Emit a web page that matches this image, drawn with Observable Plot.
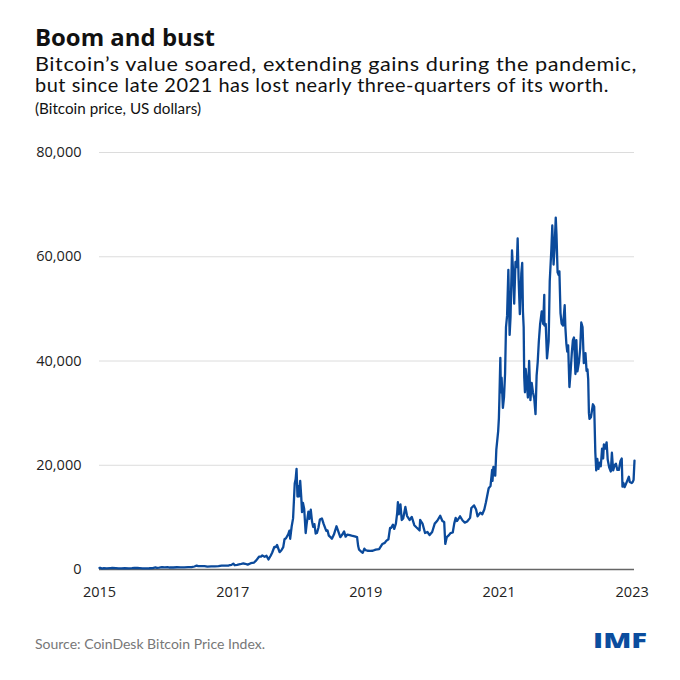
<!DOCTYPE html>
<html>
<head>
<meta charset="utf-8">
<script src="https://cdn.jsdelivr.net/npm/d3@7"></script>
<script src="https://cdn.jsdelivr.net/npm/@observablehq/plot@0.6"></script>
<style>
  html, body { margin: 0; padding: 0; background: #fff; }
  #wrap { position: relative; width: 680px; height: 680px; font-family: Lato, "Open Sans", sans-serif; overflow: hidden; }
  .t { position: absolute; left: 35px; white-space: nowrap; display: inline-block; transform-origin: 0 50%; line-height: 1.2; }
  #title { top: 21.4px; font-family: "Open Sans", Lato, sans-serif; font-size: 23px; font-weight: 700; color: #111; line-height: normal; }
  .sub { font-size: 19px; color: #111; letter-spacing: 0.5px; }
  #sub1 { top: 52.7px; }
  #sub2 { top: 73.8px; }
  #unit { top: 99.7px; font-size: 14.5px; color: #111; }
  #source { top: 635.7px; font-size: 13.5px; color: #777; }
  #logo { left: 593px; top: 625.6px; font-family: "Open Sans", Lato, sans-serif; font-size: 21px; font-weight: 800; color: #0b4d9e; line-height: normal; }
  #chart { position: absolute; left: 0; top: 130px; }
</style>
</head>
<body>
<div id="wrap">
  <div class="t" id="title" data-w="180">Boom and bust</div>
  <div class="t sub" id="sub1" data-w="602">Bitcoin’s value soared, extending gains during the pandemic,</div>
  <div class="t sub" id="sub2" data-w="574">but since late 2021 has lost nearly three-quarters of its worth.</div>
  <div class="t" id="unit" data-w="166">(Bitcoin price, US dollars)</div>
  <div id="chart"></div>
  <div class="t" id="source" data-w="230">Source: CoinDesk Bitcoin Price Index.</div>
  <div class="t" id="logo" data-w="54">IMF</div>
</div>
<script>
const dates = [
  "2015-01-01","2015-01-08","2015-01-14","2015-01-25","2015-02-10","2015-03-01","2015-03-12","2015-04-01","2015-04-15","2015-05-01","2015-05-20","2015-06-10","2015-06-28","2015-07-12","2015-07-28","2015-08-10","2015-08-25","2015-09-15","2015-10-01","2015-10-20","2015-11-04","2015-11-12","2015-11-25","2015-12-10","2015-12-25",
  "2016-01-10","2016-01-20","2016-02-10","2016-03-01","2016-03-20","2016-04-10","2016-05-01","2016-05-20","2016-06-05","2016-06-17","2016-06-25","2016-07-10","2016-07-30","2016-08-15","2016-09-05","2016-09-25","2016-10-15","2016-11-01","2016-11-20","2016-12-10","2016-12-25",
  "2017-01-04","2017-01-12","2017-01-25","2017-02-10","2017-02-28","2017-03-10","2017-03-24","2017-04-10","2017-04-28","2017-05-10","2017-05-25","2017-06-05","2017-06-12","2017-06-25","2017-07-05","2017-07-16","2017-07-28","2017-08-05","2017-08-17","2017-08-25","2017-09-01","2017-09-15","2017-09-25","2017-10-05","2017-10-12","2017-10-20","2017-11-01","2017-11-08","2017-11-12","2017-11-20","2017-11-28","2017-12-07","2017-12-12","2017-12-17","2017-12-22","2017-12-26","2017-12-30",
  "2018-01-06","2018-01-12","2018-01-16","2018-01-21","2018-01-28","2018-02-05","2018-02-10","2018-02-20","2018-02-25","2018-03-05","2018-03-12","2018-03-18","2018-03-25","2018-04-01","2018-04-08","2018-04-16","2018-04-24","2018-05-05","2018-05-15","2018-05-29","2018-06-05","2018-06-12","2018-06-24","2018-06-29","2018-07-10","2018-07-24","2018-08-01","2018-08-14","2018-08-25","2018-09-04","2018-09-12","2018-09-22","2018-10-05","2018-10-15","2018-11-01","2018-11-14","2018-11-20","2018-11-25","2018-12-05","2018-12-15","2018-12-24","2018-12-31",
  "2019-01-10","2019-01-25","2019-02-08","2019-02-24","2019-03-15","2019-04-02","2019-04-15","2019-04-23","2019-05-05","2019-05-14","2019-05-20","2019-05-30","2019-06-06","2019-06-15","2019-06-22","2019-06-26","2019-07-01","2019-07-10","2019-07-17","2019-07-25","2019-08-06","2019-08-15","2019-08-29","2019-09-10","2019-09-24","2019-10-05","2019-10-23","2019-10-26","2019-11-08","2019-11-22","2019-12-05","2019-12-17","2019-12-31",
  "2020-01-14","2020-01-28","2020-02-13","2020-02-25","2020-03-06","2020-03-12","2020-03-20","2020-04-01","2020-04-10","2020-04-22","2020-04-30","2020-05-08","2020-05-15","2020-06-01","2020-06-15","2020-06-27","2020-07-10","2020-07-26","2020-08-02","2020-08-17","2020-08-28","2020-09-05","2020-09-20","2020-10-01","2020-10-12","2020-10-21","2020-11-05","2020-11-15","2020-11-24","2020-11-26","2020-12-01","2020-12-11","2020-12-17","2020-12-27","2020-12-31",
  "2021-01-03","2021-01-08","2021-01-11","2021-01-15","2021-01-22","2021-01-28","2021-02-03","2021-02-08","2021-02-14","2021-02-21","2021-02-28","2021-03-05","2021-03-13","2021-03-18","2021-03-25","2021-04-01","2021-04-08","2021-04-13","2021-04-18","2021-04-25","2021-05-03","2021-05-08","2021-05-12","2021-05-16","2021-05-19","2021-05-23","2021-05-27","2021-06-01","2021-06-08","2021-06-15","2021-06-22","2021-06-29","2021-07-06","2021-07-13","2021-07-20","2021-07-26","2021-08-01","2021-08-07","2021-08-14","2021-08-23","2021-08-31","2021-09-06","2021-09-07","2021-09-14","2021-09-21","2021-09-30","2021-10-06","2021-10-15","2021-10-20","2021-10-27","2021-11-01","2021-11-08","2021-11-12","2021-11-18","2021-11-24","2021-11-28","2021-12-04","2021-12-10","2021-12-18","2021-12-27","2021-12-31",
  "2022-01-05","2022-01-10","2022-01-15","2022-01-22","2022-01-28","2022-02-04","2022-02-10","2022-02-16","2022-02-24","2022-03-01","2022-03-07","2022-03-15","2022-03-22","2022-03-28","2022-04-04","2022-04-11","2022-04-20","2022-04-26","2022-05-01","2022-05-05","2022-05-09","2022-05-12","2022-05-20","2022-05-31","2022-06-07","2022-06-13","2022-06-18","2022-06-24","2022-06-30","2022-07-07","2022-07-13","2022-07-20","2022-07-26","2022-07-30","2022-08-07","2022-08-14","2022-08-20","2022-08-28","2022-09-06","2022-09-12","2022-09-19","2022-09-27","2022-10-04","2022-10-12","2022-10-20","2022-10-29","2022-11-05","2022-11-09","2022-11-14","2022-11-21","2022-11-28","2022-12-05","2022-12-14","2022-12-19","2022-12-30",
  "2023-01-05","2023-01-09","2023-01-14"
];
const prices = [
  315,290,180,255,220,275,295,245,220,235,238,230,250,300,290,265,230,230,240,270,400,330,370,455,425,
  445,380,380,435,415,425,450,445,575,755,665,665,655,570,605,605,640,730,735,770,890,
  1130,820,890,1010,1190,1100,940,1210,1340,1760,2450,2490,2700,2450,2630,1930,2640,3220,4320,4280,4700,3330,3700,4300,5800,6000,6750,7450,5900,8200,9800,16500,17300,19300,14000,16000,14000,
  17000,13800,11000,12800,11600,7000,8600,11100,9700,11500,9200,8200,8700,6900,7000,8000,9600,9800,8700,7400,7500,6500,6100,5900,6700,8300,7500,6200,6700,7300,6300,6700,6600,6500,6350,6200,4500,3800,3500,3200,4000,3700,
  3600,3570,3600,3800,3900,4900,5100,5500,5800,8000,8000,8600,7800,8800,10800,12900,10600,12500,9500,9800,12000,10300,9500,10100,8500,8100,7500,9500,8800,7000,7200,6600,7200,
  8800,9350,10300,9300,9100,4900,6200,6600,7000,7100,8800,9900,9300,10200,9400,9000,9200,9900,11800,12300,11500,10200,10900,10600,11500,12900,15600,16000,19100,17000,19700,18000,23000,26500,29000,
  33000,40600,34000,36800,31000,33000,37600,46500,48700,57500,45000,48500,61200,57800,51000,59000,58000,63500,56000,49000,56800,58800,49500,46500,37000,34000,38500,36500,33000,40000,32500,35800,34000,32800,29800,37200,39800,43700,47000,49500,47100,52700,46800,47100,40500,43800,55300,61500,66000,58500,61300,67500,64300,57000,56500,57200,49200,47200,46800,50700,46300,
  43400,41800,43000,35000,37700,41500,44000,44500,37500,44000,38000,39700,42400,47400,46500,39600,41500,38100,38400,36500,30000,28900,29200,31700,31200,22500,19000,21200,19300,20500,19800,23200,21300,24000,23200,24400,21100,19600,18800,22400,19000,20000,20300,19100,19100,20800,21300,15900,16600,15800,16400,17000,17800,16800,16600,
  16850,17200,20900
];
const yTicks = [0, 20000, 40000, 60000, 80000];
const xTickYears = ["2015", "2017", "2019", "2021", "2023"];

const data = dates.map((d, i) => ({date: new Date(d), price: prices[i]}));
const xTicks = xTickYears.map(y => new Date(y + "-01-01"));

const chart = Plot.plot({
  width: 680,
  height: 500,
  marginLeft: 99,
  marginRight: 46,
  marginTop: 22,
  marginBottom: 61,
  style: {fontFamily: "'Open Sans', Lato, sans-serif", color: "#222", background: "transparent"},
  x: {type: "utc", domain: [new Date("2015-01-01"), new Date("2023-01-14")]},
  y: {domain: [0, 80000]},
  marks: [
    Plot.gridY(yTicks, {stroke: "#dcdcdc", strokeOpacity: 1, strokeWidth: 1}),
    Plot.ruleY([0], {stroke: "#666", strokeWidth: 1.6}),
    Plot.lineY(data, {x: "date", y: "price", stroke: "#0b4a9b", strokeWidth: 2.3, strokeLinejoin: "round"}),
    Plot.axisY(yTicks, {tickSize: 0, tickPadding: 18, fontSize: 14.5, label: null, tickFormat: d3.format(","), fill: "#222"}),
    Plot.axisX(xTicks, {tickSize: 0, tickPadding: 17, fontSize: 14.5, label: null, tickFormat: d3.utcFormat("%Y"), fill: "#222"})
  ]
});
document.getElementById("chart").appendChild(chart);

function fitTexts() {
  document.querySelectorAll("[data-w]").forEach(el => {
    el.style.transform = "none";
    const w = el.getBoundingClientRect().width;
    const target = +el.dataset.w;
    if (w > 0) el.style.transform = `scaleX(${target / w})`;
  });
}
fitTexts();
if (document.fonts && document.fonts.ready) document.fonts.ready.then(fitTexts);
</script>
</body>
</html>
